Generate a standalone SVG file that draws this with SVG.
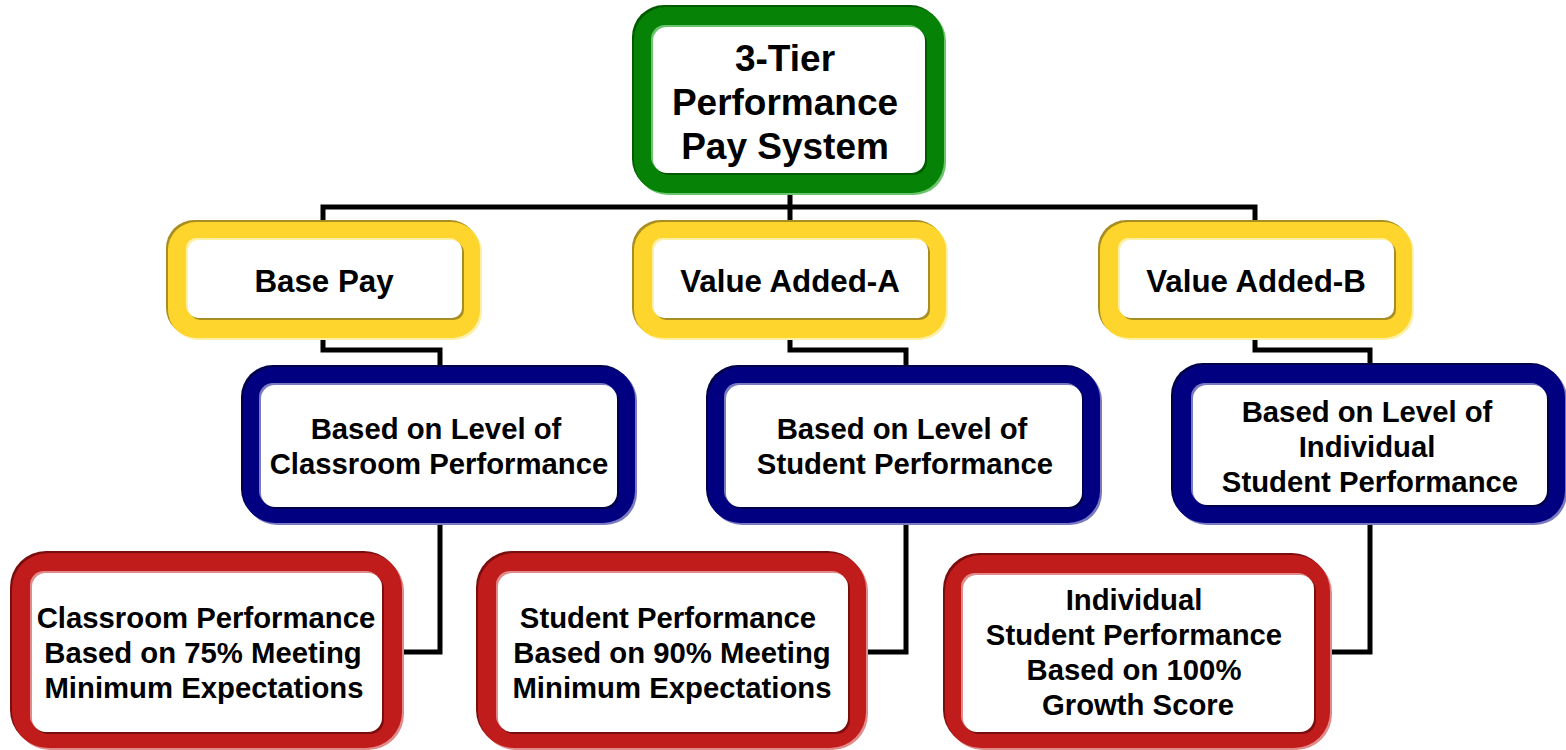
<svg xmlns="http://www.w3.org/2000/svg" width="1566" height="750" viewBox="0 0 1566 750">
  <style>
    .wire { fill: none; stroke: #000; stroke-width: 5; stroke-linejoin: miter; }
    .lbl { font-family: "Liberation Sans", Arial, sans-serif; font-weight: bold; fill: #000; text-anchor: middle; }
    .t36 { font-size: 37px; }
    .t31 { font-size: 31.3px; }
    .t29 { font-size: 29.3px; }
    .in-face { fill: #fff; }
    /* green tier */
    .g-dark { fill: #005a00; } .g-face { fill: #068206; } .g-light { fill: #6cc46c; }
    /* yellow tier */
    .y-dark { fill: #a88e22; } .y-face { fill: #fdd52c; } .y-light { fill: #fff0a8; }
    /* blue tier */
    .b-dark { fill: #00004a; } .b-face { fill: #000080; } .b-light { fill: #7a7ac0; }
    /* red tier */
    .r-dark { fill: #7a0e0e; } .r-face { fill: #c01c1c; } .r-light { fill: #e08a8a; }
  </style>

  <!-- elbow connectors -->
  <g id="connectors">
    <path class="wire" d="M790,193 V207 M323,224 V207 H1255 V224 M790,207 V224"/>
    <path class="wire" d="M323,336 V350 H440 V369"/>
    <path class="wire" d="M790,336 V350 H906 V369"/>
    <path class="wire" d="M1255,336 V350 H1370 V367"/>
    <path class="wire" d="M440,521 V652 H400"/>
    <path class="wire" d="M906,521 V652 H864"/>
    <path class="wire" d="M1370,521 V652 H1328"/>
  </g>

  <!-- root -->
  <g id="root">
    <rect class="g-light" x="636" y="9" width="310" height="186" rx="32"/>
    <rect class="g-dark" x="632" y="5" width="310" height="186" rx="32"/>
    <rect class="g-face" x="634" y="7" width="310" height="186" rx="32"/>
    <rect class="g-light" x="651" y="25" width="272" height="146" rx="14"/>
    <rect class="g-dark" x="655" y="29" width="272" height="146" rx="14"/>
    <rect class="in-face" x="653" y="27" width="272" height="146" rx="14"/>
    <text class="lbl t36" x="785" y="71">3-Tier</text>
    <text class="lbl t36" x="785" y="115">Performance</text>
    <text class="lbl t36" x="785" y="159">Pay System</text>
  </g>

  <!-- second tier -->
  <g id="base-pay">
    <rect class="y-light" x="170" y="224" width="312" height="116" rx="28"/>
    <rect class="y-dark" x="166" y="220" width="312" height="116" rx="28"/>
    <rect class="y-face" x="168" y="222" width="312" height="116" rx="28"/>
    <rect class="y-light" x="186" y="238" width="274" height="78" rx="10"/>
    <rect class="y-dark" x="190" y="242" width="274" height="78" rx="10"/>
    <rect class="in-face" x="188" y="240" width="274" height="78" rx="10"/>
    <text class="lbl t31" x="324" y="292">Base Pay</text>
  </g>

  <g id="value-added-a">
    <rect class="y-light" x="636" y="224" width="312" height="116" rx="28"/>
    <rect class="y-dark" x="632" y="220" width="312" height="116" rx="28"/>
    <rect class="y-face" x="634" y="222" width="312" height="116" rx="28"/>
    <rect class="y-light" x="652" y="238" width="274" height="78" rx="10"/>
    <rect class="y-dark" x="656" y="242" width="274" height="78" rx="10"/>
    <rect class="in-face" x="654" y="240" width="274" height="78" rx="10"/>
    <text class="lbl t31" x="790" y="292">Value Added-A</text>
  </g>

  <g id="value-added-b">
    <rect class="y-light" x="1102" y="224" width="312" height="116" rx="28"/>
    <rect class="y-dark" x="1098" y="220" width="312" height="116" rx="28"/>
    <rect class="y-face" x="1100" y="222" width="312" height="116" rx="28"/>
    <rect class="y-light" x="1118" y="238" width="274" height="78" rx="10"/>
    <rect class="y-dark" x="1122" y="242" width="274" height="78" rx="10"/>
    <rect class="in-face" x="1120" y="240" width="274" height="78" rx="10"/>
    <text class="lbl t31" x="1256" y="292">Value Added-B</text>
  </g>

  <!-- third tier -->
  <g id="classroom-level">
    <rect class="b-light" x="245" y="369" width="392" height="156" rx="32"/>
    <rect class="b-dark" x="241" y="365" width="392" height="156" rx="32"/>
    <rect class="b-face" x="243" y="367" width="392" height="156" rx="32"/>
    <rect class="b-light" x="259" y="383" width="356" height="122" rx="14"/>
    <rect class="b-dark" x="263" y="387" width="356" height="122" rx="14"/>
    <rect class="in-face" x="261" y="385" width="356" height="122" rx="14"/>
    <text class="lbl t29" x="436" y="439">Based on Level of</text>
    <text class="lbl t29" x="439" y="474">Classroom Performance</text>
  </g>

  <g id="student-level">
    <rect class="b-light" x="710" y="369" width="392" height="156" rx="32"/>
    <rect class="b-dark" x="706" y="365" width="392" height="156" rx="32"/>
    <rect class="b-face" x="708" y="367" width="392" height="156" rx="32"/>
    <rect class="b-light" x="724" y="383" width="356" height="122" rx="14"/>
    <rect class="b-dark" x="728" y="387" width="356" height="122" rx="14"/>
    <rect class="in-face" x="726" y="385" width="356" height="122" rx="14"/>
    <text class="lbl t29" x="902" y="439">Based on Level of</text>
    <text class="lbl t29" x="905" y="474">Student Performance</text>
  </g>

  <g id="individual-level">
    <rect class="b-light" x="1175" y="367" width="392" height="158" rx="32"/>
    <rect class="b-dark" x="1171" y="363" width="392" height="158" rx="32"/>
    <rect class="b-face" x="1173" y="365" width="392" height="158" rx="32"/>
    <rect class="b-light" x="1191" y="383" width="354" height="120" rx="14"/>
    <rect class="b-dark" x="1195" y="387" width="354" height="120" rx="14"/>
    <rect class="in-face" x="1193" y="385" width="354" height="120" rx="14"/>
    <text class="lbl t29" x="1367" y="422">Based on Level of</text>
    <text class="lbl t29" x="1367" y="457">Individual</text>
    <text class="lbl t29" x="1370" y="492">Student Performance</text>
  </g>

  <!-- criteria tier -->
  <g id="classroom-criteria">
    <rect class="r-light" x="14" y="555" width="390" height="195" rx="36"/>
    <rect class="r-dark" x="10" y="551" width="390" height="195" rx="36"/>
    <rect class="r-face" x="12" y="553" width="390" height="195" rx="36"/>
    <rect class="r-light" x="30" y="571" width="350" height="159" rx="14"/>
    <rect class="r-dark" x="34" y="575" width="350" height="159" rx="14"/>
    <rect class="in-face" x="32" y="573" width="350" height="159" rx="14"/>
    <text class="lbl t29" x="206" y="628">Classroom Performance</text>
    <text class="lbl t29" x="203" y="663">Based on 75% Meeting</text>
    <text class="lbl t29" x="204" y="698">Minimum Expectations</text>
  </g>

  <g id="student-criteria">
    <rect class="r-light" x="480" y="555" width="388" height="195" rx="36"/>
    <rect class="r-dark" x="476" y="551" width="388" height="195" rx="36"/>
    <rect class="r-face" x="478" y="553" width="388" height="195" rx="36"/>
    <rect class="r-light" x="496" y="571" width="350" height="159" rx="14"/>
    <rect class="r-dark" x="500" y="575" width="350" height="159" rx="14"/>
    <rect class="in-face" x="498" y="573" width="350" height="159" rx="14"/>
    <text class="lbl t29" x="668" y="628">Student Performance</text>
    <text class="lbl t29" x="672" y="663">Based on 90% Meeting</text>
    <text class="lbl t29" x="672" y="698">Minimum Expectations</text>
  </g>

  <g id="individual-criteria">
    <rect class="r-light" x="947" y="557" width="385" height="193" rx="36"/>
    <rect class="r-dark" x="943" y="553" width="385" height="193" rx="36"/>
    <rect class="r-face" x="945" y="555" width="385" height="193" rx="36"/>
    <rect class="r-light" x="961" y="573" width="351" height="157" rx="14"/>
    <rect class="r-dark" x="965" y="577" width="351" height="157" rx="14"/>
    <rect class="in-face" x="963" y="575" width="351" height="157" rx="14"/>
    <text class="lbl t29" x="1134" y="610">Individual</text>
    <text class="lbl t29" x="1134" y="645">Student Performance</text>
    <text class="lbl t29" x="1134" y="680">Based on 100%</text>
    <text class="lbl t29" x="1138" y="715">Growth Score</text>
  </g>
</svg>
